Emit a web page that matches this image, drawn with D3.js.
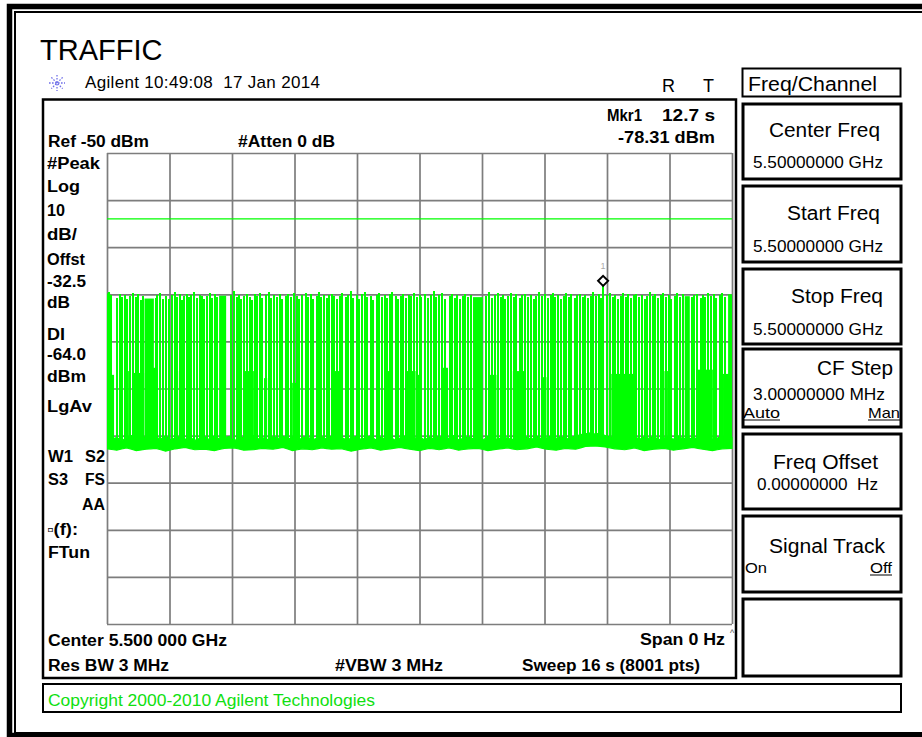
<!DOCTYPE html>
<html><head><meta charset="utf-8">
<script src="https://cdn.jsdelivr.net/npm/d3@7"></script>
<style>body{margin:0;background:#fff}svg{display:block}text{white-space:pre}</style>
</head><body>
<svg id="c" width="922" height="737"></svg>
<script>
// ---------------- DATA ----------------
const sweepTime = [0, 16];              // seconds (Span 0 Hz, Sweep 16 s)
const ampRange = [-150, -50];            // dBm (Ref -50 dBm, 10 dB/div)
const gridTimes = [0, 1.6, 3.2, 4.8, 6.4, 8, 9.6, 11.2, 12.8, 14.4, 16];
const gridLevels = [-150, -140, -130, -120, -110, -100, -90, -80, -70, -60, -50];
const displayLine = -64.0;
const marker = { t: 12.7, dbm: -78.31, label: "1" };

// narrow bursts: [time s, peak dBm]
const bursts = [
 [0.05,-79.6],[0.11,-80.2],[0.26,-80.8],[0.33,-79.9],[0.39,-80.5],[0.45,-80.1],[0.50,-81.0],[0.59,-80.3],[0.67,-79.7],[0.74,-80.6],[0.80,-80.0],[0.86,-81.2],[0.93,-80.4],
 [1.25,-80.7],[1.29,-80.1],[1.36,-79.8],[1.44,-80.9],[1.50,-80.3],[1.59,-81.1],[1.67,-80.2],[1.73,-79.6],[1.80,-80.5],[1.87,-80.0],[1.93,-81.3],[1.97,-80.4],[2.04,-79.9],[2.10,-80.6],[2.16,-80.2],[2.23,-79.5],[2.31,-80.8],[2.38,-80.1],[2.44,-80.4],[2.48,-81.0],[2.57,-80.3],[2.64,-79.8],[2.70,-80.7],[2.76,-80.0],[2.82,-80.5],
 [3.17,-80.2],[3.25,-79.4],[3.32,-80.6],[3.38,-80.1],[3.44,-80.9],[3.51,-80.3],[3.58,-79.9],[3.66,-80.5],[3.72,-81.2],[3.78,-80.0],[3.85,-80.4],[3.92,-79.7],[3.98,-80.8],[4.06,-80.2],[4.15,-79.6],[4.19,-80.7],[4.28,-80.1],[4.36,-80.5],[4.43,-79.9],[4.49,-81.0],[4.57,-80.3],[4.63,-80.0],[4.70,-80.6],[4.79,-79.8],[4.86,-80.4],[4.92,-81.1],
 [5.00,-80.2],[5.09,-79.7],[5.15,-80.5],[5.21,-80.0],[5.28,-80.9],[5.37,-80.3],[5.43,-79.5],[5.49,-80.6],[5.56,-80.1],[5.62,-80.8],[5.68,-80.2],[5.75,-79.9],[5.81,-80.4],[5.90,-81.0],[5.96,-80.3],[6.02,-79.8],[6.11,-80.5],[6.17,-80.1],[6.24,-79.4],[6.31,-80.7],[6.39,-80.2],[6.45,-80.9],[6.54,-80.0],[6.60,-79.6],[6.66,-80.5],[6.75,-80.3],[6.82,-81.2],[6.90,-80.1],[6.96,-79.7],
 [7.05,-80.6],[7.11,-80.2],[7.18,-80.8],[7.24,-80.0],[7.30,-79.5],[7.39,-80.4],[7.45,-81.0],[7.52,-80.3],[7.59,-79.9],[7.65,-80.7],[7.73,-80.1],[7.79,-80.4],[7.86,-79.8],[7.93,-80.6],[8.01,-80.2],
 [8.05,-80.5],[8.13,-79.9],[8.22,-80.7],[8.30,-80.1],[8.37,-79.3],[8.43,-80.6],[8.51,-80.2],[8.57,-79.8],[8.64,-80.9],[8.77,-80.3],[8.83,-80.0],[8.90,-80.7],[8.97,-80.2],[9.03,-81.0],[9.11,-80.4],[9.17,-79.9],[9.24,-80.6],[9.31,-80.1],
 [9.71,-80.4],[9.77,-79.6],[9.85,-80.8],[9.92,-80.2],[10.01,-79.7],[10.08,-80.5],[10.14,-80.1],[10.20,-80.9],[10.26,-80.3],[10.33,-79.8],[10.42,-80.6],[10.48,-80.0],[10.56,-80.7],[10.62,-80.2],[10.69,-79.9],[10.78,-80.5],[10.86,-80.1],[10.93,-81.0],[10.99,-80.3],
 [11.05,-79.6],[11.13,-80.4],[11.20,-80.0],[11.29,-80.8],[11.36,-80.2],[11.42,-79.7],[11.48,-80.6],[11.54,-80.1],[11.63,-80.9],[11.70,-80.3],[11.76,-79.8],[11.82,-80.5],[11.89,-80.0],[11.97,-80.7],[12.04,-80.2],[12.10,-79.9],[12.18,-80.6],[12.24,-80.1],[12.31,-80.8],[12.38,-80.3],[12.44,-79.5],[12.53,-80.4],[12.59,-80.0],[12.65,-80.7],[12.70,-78.31],[12.81,-80.2],[12.87,-79.8],[12.95,-80.5],
 [13.01,-80.1],[13.08,-80.9],[13.15,-80.3],[13.21,-79.7],[13.29,-80.6],[13.35,-80.0],[13.42,-80.8],[13.49,-80.2],[13.55,-79.9],[13.63,-80.5],[13.69,-80.1],[13.76,-81.0],[13.83,-80.3],[13.89,-79.6],[13.98,-80.4],
 [14.04,-80.0],[14.10,-80.7],[14.17,-80.2],[14.23,-79.8],[14.32,-80.6],[14.38,-80.1],[14.45,-80.9],[14.53,-80.3],[14.60,-79.7],[14.66,-80.5],[14.74,-80.0],
 [14.97,-80.6],[15.04,-80.2],[15.11,-79.9],[15.20,-80.7],[15.26,-80.1],[15.32,-80.5],[15.38,-79.8],[15.47,-80.4],[15.54,-80.0],[15.60,-80.8],[15.68,-80.2],[15.74,-79.7],[15.81,-80.5]
];
// wide full-height bursts: [start s, end s, peak dBm]
const wideBursts = [[0.00,0.08,-79.8],[0.96,1.20,-80.9],[2.87,3.05,-80.3],[9.37,9.62,-80.6],[14.79,14.92,-80.4],[15.90,16.00,-80.0]];
// partial-level bursts: [start s, end s, level dBm]
const midBursts = [
 [0.01,0.18,-97.1],[0.44,0.56,-96.3],[0.69,0.95,-96.7],[1.16,1.29,-95.6],[1.84,1.97,-96.3],[3.51,3.76,-96.3],[4.02,4.10,-97.8],
 [4.74,4.87,-98.8],[5.81,6.00,-96.3],[7.13,7.28,-96.3],[7.65,7.90,-96.3],[7.96,8.05,-97.1],[8.60,8.73,-95.6],[9.79,9.97,-97.1],
 [10.39,10.69,-96.3],[11.12,11.25,-97.6],[12.91,13.51,-96.9],[14.27,14.36,-96.3],[15.09,15.51,-96.0],[15.77,16.00,-96.9]
];
// noise floor top edge, sampled every 0.125 s
const floorTop = [
 -110.2,-110.8,-110.4,-111.1,-110.5,-110.0,-110.9,-110.6,-110.3,-111.0,
 -110.4,-110.7,-110.1,-110.9,-110.5,-110.2,-110.8,-110.4,-111.0,-110.6,
 -110.3,-110.9,-110.1,-110.7,-110.5,-110.2,-111.1,-110.6,-110.4,-110.8,
 -110.0,-110.7,-110.5,-110.9,-110.3,-110.6,-110.1,-110.8,-110.4,-111.0,
 -110.5,-110.2,-110.9,-110.6,-110.3,-110.8,-110.1,-110.7,-110.4,-110.9,
 -110.6,-110.2,-110.8,-110.5,-110.0,-110.9,-110.4,-110.7,-110.3,-111.0,
 -110.5,-110.1,-110.8,-110.6,-110.3,-110.9,-110.4,-110.7,-110.2,-110.8,
 -110.5,-110.0,-110.9,-110.6,-110.3,-110.7,-110.4,-111.0,-110.2,-110.6,
 -110.8,-110.3,-110.5,-110.9,-110.1,-110.6,-110.4,-110.8,-110.2,-110.7,
 -110.5,-110.0,-110.6,-110.3,-110.8,-110.4,-110.1,-109.8,-109.6,-109.4,
 -109.7,-109.5,-110.0,-110.3,-110.7,-110.2,-110.9,-110.5,-110.1,-110.8,
 -110.4,-110.6,-110.2,-110.9,-110.5,-110.3,-110.8,-110.1,-110.7,-110.4,
 -110.9,-110.3,-110.6,-110.2,-110.8,-110.5,-110.1,-110.7,-110.4];
// noise floor bottom edge, sampled every 0.25 s
const floorBottom = [-112.8,-113.1,-112.6,-113.2,-112.9,-112.7,-113.3,-112.8,-112.5,-113.0,-112.9,-113.2,-112.7,-112.6,-113.1,-113.0,
 -112.7,-112.9,-112.5,-113.2,-112.8,-113.0,-112.6,-112.9,-112.8,-113.3,-112.9,-112.6,-113.1,-112.8,-112.5,-112.9,
 -113.2,-112.7,-113.0,-112.6,-113.1,-112.8,-112.7,-113.2,-112.9,-112.6,-113.0,-112.8,-112.4,-112.9,-113.1,-112.7,
 -112.9,-112.3,-112.2,-112.4,-112.8,-113.0,-112.6,-113.2,-112.9,-112.7,-113.1,-112.8,-112.5,-112.9,-113.2,-112.8,-112.7];

const headerTitle = "TRAFFIC";
const headerLine = "Agilent 10:49:08  17 Jan 2014";
const menuTitle = "Freq/Channel";
const softkeys = [
 {title:"Center Freq", value:"5.50000000 GHz"},
 {title:"Start Freq", value:"5.50000000 GHz"},
 {title:"Stop Freq", value:"5.50000000 GHz"},
 {title:"CF Step", value:"3.00000000 MHz", left:"Auto", right:"Man"},
 {title:"Freq Offset", value:"0.00000000  Hz"},
 {title:"Signal Track", left:"On", right:"Off"},
 {}
];
const leftLabels = ["#Peak","Log","10","dB/","Offst","-32.5","dB","DI","-64.0","dBm","LgAv"];
const copyright = "Copyright 2000-2010 Agilent Technologies";

// ---------------- DRAW ----------------
const svg = d3.select("#c");
const FONT = "'Liberation Sans', Arial, Helvetica, sans-serif";
const GREEN = "#00ff00";
function T(x, y, s, o = {}) {
  const t = svg.append("text").attr("x", x).attr("y", y).text(s)
    .attr("font-family", FONT).attr("font-size", o.size || 16)
    .attr("font-weight", o.bold ? "bold" : "normal")
    .attr("fill", o.fill || "#000");
  if (o.anchor) t.attr("text-anchor", o.anchor);
  if (o.len) t.attr("textLength", o.len).attr("lengthAdjust", o.adj || "spacingAndGlyphs");
  return t;
}
function U(x1, x2, y) { svg.append("line").attr("x1", x1).attr("x2", x2).attr("y1", y).attr("y2", y).attr("stroke", "#000").attr("stroke-width", 1); }

// outer frame
svg.append("rect").attr("x", 9.5).attr("y", 6.5).attr("width", 1000).attr("height", 729).attr("fill", "none").attr("stroke", "#000").attr("stroke-width", 5.5);
svg.append("rect").attr("x", 15).attr("y", 12).attr("width", 1000).attr("height", 721).attr("fill", "none").attr("stroke", "#000").attr("stroke-width", 2);

// header
T(40, 60, headerTitle, {size: 29});
const logo = svg.append("g").attr("transform", "translate(57,83)");
[0, 45, 90, 135].forEach(a => {
  logo.append("line").attr("x1", -8).attr("x2", 8).attr("y1", 0).attr("y2", 0)
    .attr("transform", `rotate(${a})`).attr("stroke", "#6f6fe8").attr("stroke-width", 1.3).attr("stroke-dasharray", "1.6,1.4");
});
T(85, 88, headerLine, {size: 17, len: 235, adj: "spacing"});
T(662, 92, "R", {size: 18});
T(703, 92, "T", {size: 18});

// menu title box
svg.append("rect").attr("x", 742.5).attr("y", 68.5).attr("width", 158).attr("height", 28).attr("fill", "none").attr("stroke", "#000").attr("stroke-width", 2);
T(748, 91, menuTitle, {size: 20, len: 129});

// main display box
svg.append("rect").attr("x", 43).attr("y", 99.5).attr("width", 693).attr("height", 578.5).attr("fill", "none").attr("stroke", "#000").attr("stroke-width", 2.5);

// scales
const gx0 = 107, gx1 = 732, gy0 = 153, gy1 = 624;
const x = d3.scaleLinear().domain(sweepTime).range([gx0, gx1]);
const y = d3.scaleLinear().domain(ampRange).range([gy1, gy0]);

// grid via axes
const gridG = svg.append("g");
gridG.append("g").attr("transform", `translate(0,${gy1})`)
  .call(d3.axisBottom(x).tickValues(gridTimes).tickSize(-(gy1 - gy0)).tickFormat(""))
  .call(g => g.select(".domain").remove());
gridG.append("g").attr("transform", `translate(${gx0},0)`)
  .call(d3.axisLeft(y).tickValues(gridLevels).tickSize(-(gx1 - gx0)).tickFormat(""))
  .call(g => g.select(".domain").remove());
gridG.selectAll(".tick line").attr("stroke", "#7d7d7d").attr("stroke-width", 1.7);

// display line
svg.append("line").attr("x1", x(sweepTime[0])).attr("x2", x(sweepTime[1]))
  .attr("y1", y(displayLine)).attr("y2", y(displayLine)).attr("stroke", GREEN).attr("stroke-width", 1.2);

// trace
svg.append("clipPath").attr("id", "clip").append("rect").attr("x", gx0).attr("y", gy0).attr("width", gx1 - gx0 + 1).attr("height", gy1 - gy0);
const tr = svg.append("g").attr("clip-path", "url(#clip)");
const dTop = (sweepTime[1] - sweepTime[0]) / (floorTop.length - 1);
const dBot = (sweepTime[1] - sweepTime[0]) / (floorBottom.length - 1);
const botAt = t => {
  const i = Math.min(floorBottom.length - 2, Math.floor(t / dBot));
  const f = t / dBot - i;
  return floorBottom[i] * (1 - f) + floorBottom[i + 1] * f;
};
const floorData = floorTop.map((v, i) => ({t: i * dTop, top: v}));
tr.append("path").datum(floorData)
  .attr("d", d3.area().x(d => x(d.t)).y0(d => y(botAt(d.t))).y1(d => y(d.top)))
  .attr("fill", GREEN).attr("stroke", GREEN).attr("stroke-width", 1.2);
const base = -111.0;
tr.selectAll(".mid").data(midBursts).join("rect")
  .attr("x", d => x(d[0])).attr("width", d => Math.max(1, x(d[1]) - x(d[0])))
  .attr("y", d => y(d[2])).attr("height", d => y(base) - y(d[2])).attr("fill", GREEN);
tr.selectAll(".wide").data(wideBursts).join("rect")
  .attr("x", d => x(d[0])).attr("width", d => Math.max(1, x(d[1]) - x(d[0])))
  .attr("y", d => y(d[2])).attr("height", d => y(base) - y(d[2])).attr("fill", GREEN);
tr.selectAll(".b").data(bursts).join("line")
  .attr("x1", d => Math.round(x(d[0]))).attr("x2", d => Math.round(x(d[0])))
  .attr("y1", y(base)).attr("y2", d => y(d[1]))
  .attr("stroke", GREEN).attr("stroke-width", 2).attr("shape-rendering", "crispEdges");

// marker
const mx = x(marker.t), my = y(marker.dbm) - 5.5;
svg.append("path").attr("d", `M${mx},${my - 5}L${mx + 5},${my}L${mx},${my + 5}L${mx - 5},${my}Z`)
  .attr("fill", "#fff").attr("stroke", "#000").attr("stroke-width", 2);
T(mx, my - 12, marker.label, {size: 9, fill: "#aaa", anchor: "middle"});

// annotations (bold)
T(48, 147, "Ref -50 dBm", {bold: true, len: 101});
T(238, 147, "#Atten 0 dB", {bold: true, len: 97});
T(607, 121, `Mkr${marker.label}`, {bold: true, len: 35});
T(715, 121, `${marker.t} s`, {bold: true, len: 53, anchor: "end"});
T(715, 143, `${marker.dbm} dBm`, {bold: true, len: 97, anchor: "end"});
const leftY = [169, 192, 216, 240, 265, 287, 308, 340, 360, 382, 412];
const leftW = [53, 33, 18, 30, 38, 39, 23, 18, 39, 39, 45];
leftLabels.forEach((s, i) => T(47, leftY[i], s, {bold: true, len: leftW[i]}));
T(48, 462, "W1", {bold: true, len: 25});
T(85, 462, "S2", {bold: true, len: 20});
T(48, 485, "S3", {bold: true, len: 20});
T(85, 485, "FS", {bold: true, len: 20});
T(82, 509.5, "AA", {bold: true, len: 23});
T(47, 535, "\u25AB(f):", {bold: true, len: 31});
T(48, 558, "FTun", {bold: true, len: 42});
T(48, 646, "Center 5.500 000 GHz", {bold: true, len: 179});
T(725, 645, "Span 0 Hz", {bold: true, len: 85, anchor: "end"});
T(48, 671, "Res BW 3 MHz", {bold: true, len: 121});
T(335, 671, "#VBW 3 MHz", {bold: true, len: 108});
T(522, 671, "Sweep 16 s (8001 pts)", {bold: true, len: 178});
T(732, 636, "^", {size: 9, anchor: "middle", fill: "#555"});

// softkeys
const boxes = [[103,180],[185,263],[268,345],[348,428],[433,510],[515,593],[598,677]];
const titleY = [137, 220, 303, 375, 469, 553];
const titleEnd = [880, 880, 883, 893, 878, 885];
const titleW = [111, 93, 92, 76, 105, 116];
const valueY = [168, 252, 335, 400, 490];
const valueX = [753, 753, 753, 753, 757];
const valueW = [130, 130, 130, 132, 121];
softkeys.forEach((k, i) => {
  svg.append("rect").attr("x", 743).attr("y", boxes[i][0] + 1).attr("width", 158).attr("height", boxes[i][1] - boxes[i][0] - 2)
    .attr("fill", "none").attr("stroke", "#000").attr("stroke-width", 3);
  if (k.title) T(titleEnd[i], titleY[i], k.title, {size: 20, anchor: "end", len: titleW[i]});
  if (k.value) T(valueX[i], valueY[i], k.value, {size: 16, len: valueW[i]});
});
T(743, 418, softkeys[3].left, {size: 15, len: 37}); U(743, 780, 420);
T(900, 418, softkeys[3].right, {size: 15, len: 32, anchor: "end"}); U(868, 900, 420);
T(745, 573, softkeys[5].left, {size: 15, len: 22});
T(892, 573, softkeys[5].right, {size: 15, len: 22, anchor: "end"}); U(870, 892, 575);

// copyright box
svg.append("rect").attr("x", 43).attr("y", 684).attr("width", 858).attr("height", 28).attr("fill", "none").attr("stroke", "#000").attr("stroke-width", 2);
T(48, 706, copyright, {size: 17, fill: "#10e010", len: 327});
</script>
</body></html>
